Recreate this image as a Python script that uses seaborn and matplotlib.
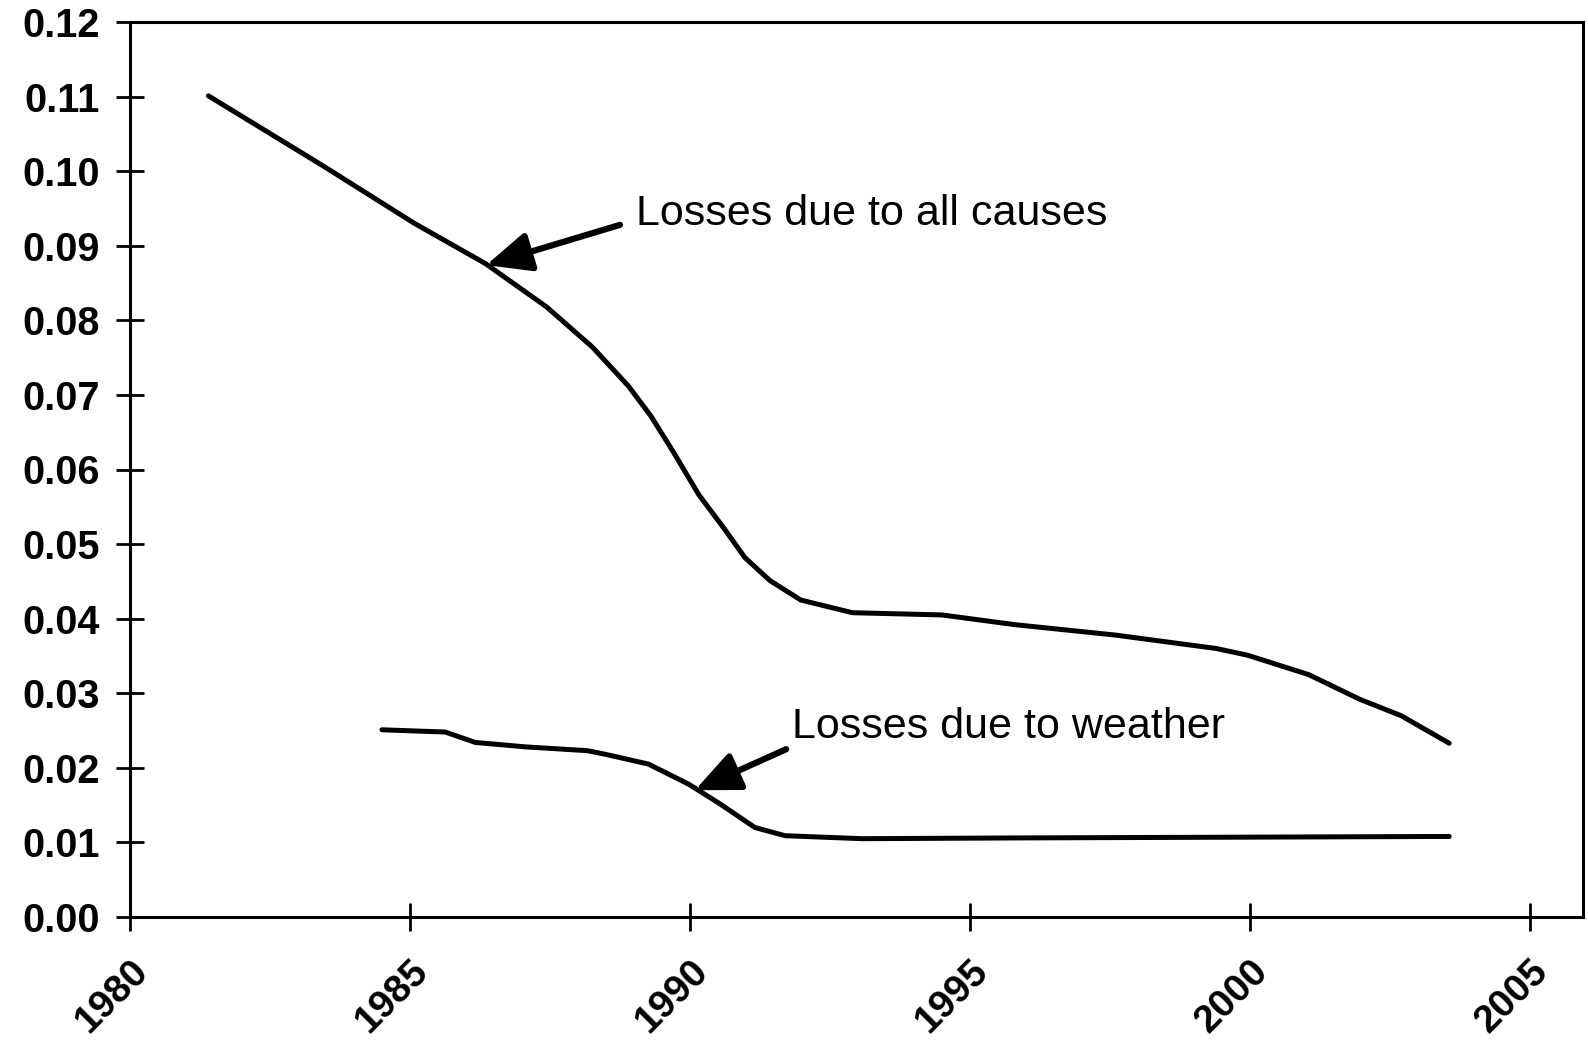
import matplotlib
matplotlib.use("Agg")
import matplotlib.pyplot as plt
import seaborn as sns
import pandas as pd

all_years = [1981.4, 1983.45, 1985.08, 1986.35, 1987.44, 1988.26, 1988.9, 1989.3, 1989.7, 1990.16,
             1990.6, 1990.98, 1991.43, 1991.98, 1992.9, 1994.5, 1995.8, 1997.6, 1999.4,
             1999.96, 2001.05, 2001.96, 2002.7, 2003.56]
all_values = [0.1101, 0.1007, 0.0930, 0.0876, 0.0818, 0.0764, 0.0712, 0.0672, 0.0624, 0.0566,
              0.0522, 0.0482, 0.0451, 0.0425, 0.0408, 0.0405, 0.0392, 0.0378, 0.0360,
              0.0351, 0.0325, 0.0292, 0.0270, 0.0233]

weather_years = [1984.5, 1985.63, 1986.17, 1987.08, 1988.17, 1988.5, 1989.26, 1989.98,
                 1990.53, 1991.16, 1991.7, 1993.07, 1995.8, 2003.56]
weather_values = [0.0251, 0.0248, 0.0234, 0.0228, 0.0223, 0.0218, 0.0205, 0.0178,
                  0.0152, 0.0120, 0.0109, 0.0105, 0.0106, 0.0108]

x_ticks = [1980, 1985, 1990, 1995, 2000, 2005]
y_ticks = [0.00, 0.01, 0.02, 0.03, 0.04, 0.05, 0.06, 0.07, 0.08, 0.09, 0.10, 0.11, 0.12]

df = pd.concat([
    pd.DataFrame({"year": all_years, "value": all_values, "series": "all"}),
    pd.DataFrame({"year": weather_years, "value": weather_values, "series": "weather"}),
])

sns.set_style("white")
plt.rcParams['font.family'] = ['Liberation Sans', 'DejaVu Sans']

fig = plt.figure(figsize=(15.88, 10.55), dpi=100)
ax = fig.add_axes([130/1588, 1 - 917/1055, (1583-130)/1588, (917-22)/1055])

sns.lineplot(data=df, x="year", y="value", units="series", estimator=None,
             color="black", linewidth=3.6, ax=ax, legend=False)

ax.set_xlim(1980, 2005.95)
ax.set_ylim(0, 0.12)
ax.set_xticks(x_ticks)
ax.set_yticks(y_ticks)
ax.set_xticklabels([str(t) for t in x_ticks], rotation=45, ha="right", va="top",
                   rotation_mode="anchor", fontsize=28, fontweight="bold", color="black")
ax.set_yticklabels([f"{t:.2f}" for t in y_ticks], fontsize=28.5, fontweight="bold", color="black")
ax.tick_params(axis="both", direction="inout", length=20, width=2, color="black",
               bottom=True, left=True)
ax.tick_params(axis="y", pad=12)
ax.tick_params(axis="x", pad=16)
ax.set_xlabel("")
ax.set_ylabel("")
for s in ax.spines.values():
    s.set_visible(True)
    s.set_color("black")
    s.set_linewidth(2.2)

arrow = dict(arrowstyle="-|>,head_length=0.9,head_width=0.4", color="black",
             lw=4.5, shrinkA=0, shrinkB=0, mutation_scale=30)
ax.annotate("", xy=(1986.36, 0.0874), xytext=(1988.75, 0.0928), arrowprops=arrow)
ax.text(1989.04, 0.0942, "Losses due to all causes", fontsize=31, color="black",
        va="center", ha="left")
ax.annotate("", xy=(1990.09, 0.0170), xytext=(1991.72, 0.0225), arrowprops=arrow)
ax.text(1991.83, 0.0255, "Losses due to weather", fontsize=31, color="black",
        va="center", ha="left")

fig.savefig("out.png", dpi=100, facecolor="white")
